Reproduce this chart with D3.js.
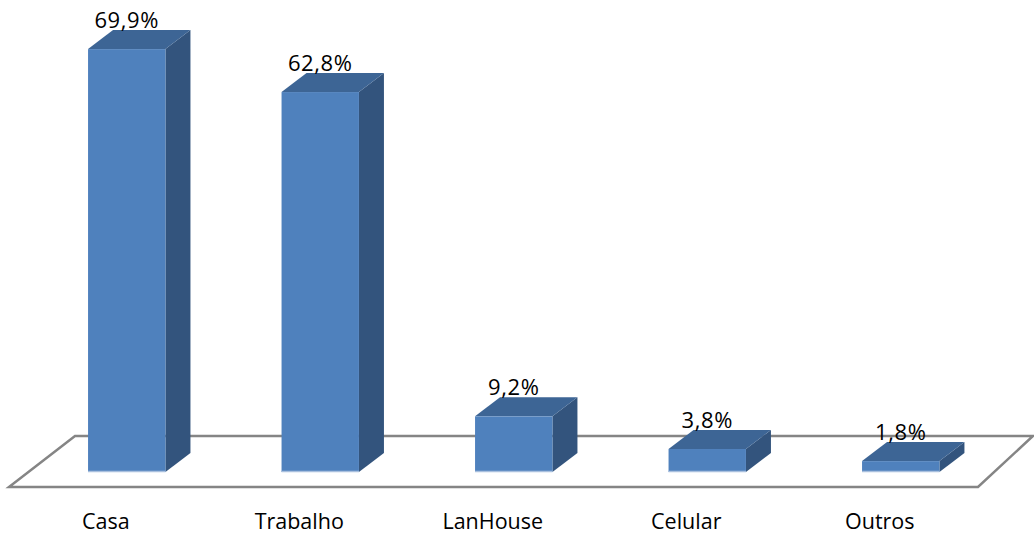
<!DOCTYPE html>
<html>
<head>
<meta charset="utf-8">
<script src="https://cdn.jsdelivr.net/npm/d3@7"></script>
<style>
  html, body { margin: 0; padding: 0; background: #fff; }
  svg { display: block; }
  text { font-family: "Open Sans", "DejaVu Sans", sans-serif; fill: #000; }
</style>
</head>
<body>
<svg id="chart" width="1034" height="535"></svg>
<script>
// Local de acesso à internet (%)
const categories = ["Casa", "Trabalho", "LanHouse", "Celular", "Outros"];
const values = [69.9, 62.8, 9.2, 3.8, 1.8];
const valueLabels = ["69,9%", "62,8%", "9,2%", "3,8%", "1,8%"];

const W = 1034, H = 535;
const svg = d3.select("#chart");

// Oblique depth of the 3D boxes
const depth = { dx: 25, dy: -19 };

const x = d3.scaleBand()
  .domain(categories)
  .range([30, 997.5])
  .paddingInner(0.6)
  .paddingOuter(0.3);

const y = d3.scaleLinear()
  .domain([0, 70])
  .range([472, 48.5]);

// Floor plane (parallelogram behind the bars)
const floorFront = 487, floorBack = 436;
const floor = [
  [9, floorFront], [978, floorFront], [1033, floorBack], [75, floorBack]
];
svg.append("polygon")
  .attr("points", floor.map(p => p.join(",")).join(" "))
  .attr("fill", "#ffffff")
  .attr("stroke", "#858585")
  .attr("stroke-width", 2.5)
  .attr("stroke-linejoin", "miter");

const colors = { front: "#4f81bd", top: "#3d6595", side: "#33547d", base: "#a9c0de" };

const bars = svg.append("g").selectAll("g")
  .data(categories.map((c, i) => ({ c, v: values[i], label: valueLabels[i] })))
  .join("g");

bars.each(function(d) {
  const g = d3.select(this);
  const x0 = x(d.c), x1 = x0 + x.bandwidth();
  const yb = y(0), yt = y(d.v);
  const { dx, dy } = depth;

  // side face
  g.append("polygon")
    .attr("points", [[x1, yt], [x1 + dx, yt + dy], [x1 + dx, yb + dy], [x1, yb]].map(p => p.join(",")).join(" "))
    .attr("fill", colors.side);
  // top face
  g.append("polygon")
    .attr("points", [[x0, yt], [x0 + dx, yt + dy], [x1 + dx, yt + dy], [x1, yt]].map(p => p.join(",")).join(" "))
    .attr("fill", colors.top);
  // front face
  g.append("rect")
    .attr("x", x0).attr("y", yt)
    .attr("width", x.bandwidth()).attr("height", yb - yt)
    .attr("fill", colors.front);
  // light base edge
  g.append("line")
    .attr("x1", x0).attr("x2", x1)
    .attr("y1", yb - 0.5).attr("y2", yb - 0.5)
    .attr("stroke", colors.base).attr("stroke-width", 1.5);

  // value label
  g.append("text")
    .attr("x", x0 + x.bandwidth() / 2)
    .attr("y", yt + dy - 2)
    .attr("text-anchor", "middle")
    .attr("font-size", 22)
    .attr("letter-spacing", 0.6)
    .text(d.label);
});

// Category labels along the front edge of the floor
svg.append("g").selectAll("text")
  .data(categories)
  .join("text")
  .attr("x", d => x(d) + x.bandwidth() / 2 - 21)
  .attr("y", 529)
  .attr("text-anchor", "middle")
  .attr("font-size", 21.5)
  .text(d => d);
</script>
</body>
</html>
